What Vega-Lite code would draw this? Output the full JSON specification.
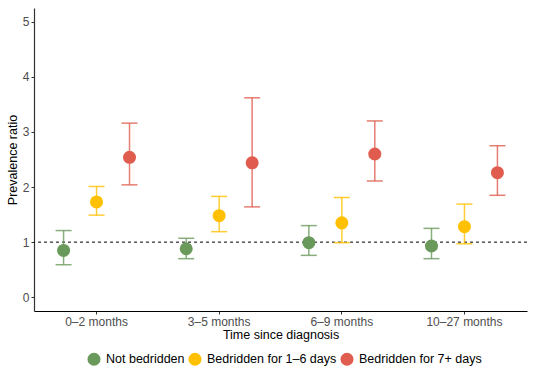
{
  "$schema": "https://vega.github.io/schema/vega-lite/v6.json",
  "autosize": {"type": "none"},
  "width": 493,
  "height": 303,
  "padding": {"left": 34, "top": 8, "right": 23, "bottom": 56},
  "background": "white",
  "config": {
    "view": {"stroke": null},
    "font": "Liberation Sans"
  },
  "data": {
    "values": [
      {"time": "0–2 months", "group": "Not bedridden", "pr": 0.85, "lo": 0.59, "hi": 1.21},
      {"time": "0–2 months", "group": "Bedridden for 1–6 days", "pr": 1.73, "lo": 1.49, "hi": 2.01},
      {"time": "0–2 months", "group": "Bedridden for 7+ days", "pr": 2.54, "lo": 2.04, "hi": 3.16},
      {"time": "3–5 months", "group": "Not bedridden", "pr": 0.88, "lo": 0.70, "hi": 1.07},
      {"time": "3–5 months", "group": "Bedridden for 1–6 days", "pr": 1.48, "lo": 1.19, "hi": 1.83},
      {"time": "3–5 months", "group": "Bedridden for 7+ days", "pr": 2.44, "lo": 1.64, "hi": 3.62},
      {"time": "6–9 months", "group": "Not bedridden", "pr": 0.99, "lo": 0.76, "hi": 1.30},
      {"time": "6–9 months", "group": "Bedridden for 1–6 days", "pr": 1.35, "lo": 0.99, "hi": 1.81},
      {"time": "6–9 months", "group": "Bedridden for 7+ days", "pr": 2.60, "lo": 2.11, "hi": 3.20},
      {"time": "10–27 months", "group": "Not bedridden", "pr": 0.93, "lo": 0.70, "hi": 1.25},
      {"time": "10–27 months", "group": "Bedridden for 1–6 days", "pr": 1.28, "lo": 0.97, "hi": 1.69},
      {"time": "10–27 months", "group": "Bedridden for 7+ days", "pr": 2.26, "lo": 1.85, "hi": 2.75}
    ]
  },
  "encoding": {
    "x": {
      "field": "time", "type": "nominal",
      "sort": ["0–2 months", "3–5 months", "6–9 months", "10–27 months"],
      "scale": {"paddingInner": 0, "paddingOuter": 0.01},
      "axis": {
        "title": "Time since diagnosis", "labelAngle": 0,
        "labelFontSize": 12, "labelColor": "#4d4d4d", "labelPadding": 2,
        "titleFontSize": 12.5, "titleFontWeight": "normal", "titleColor": "black", "titlePadding": 1,
        "tickColor": "#333", "tickSize": 3, "domainColor": "black", "domainWidth": 1.2
      }
    },
    "xOffset": {
      "field": "group", "type": "nominal",
      "sort": ["Not bedridden", "Bedridden for 1–6 days", "Bedridden for 7+ days"],
      "scale": {"paddingInner": 0, "paddingOuter": 0.36}
    },
    "color": {
      "field": "group", "type": "nominal",
      "sort": ["Not bedridden", "Bedridden for 1–6 days", "Bedridden for 7+ days"],
      "scale": {"domain": ["Not bedridden", "Bedridden for 1–6 days", "Bedridden for 7+ days"], "range": ["#6a9a5b", "#ffc000", "#e05c4f"]},
      "legend": {
        "title": null, "orient": "none", "direction": "horizontal",
        "legendX": 53, "legendY": 344,
        "symbolType": "circle", "symbolSize": 170, "symbolStrokeWidth": 0, "symbolOpacity": 1,
        "labelFontSize": 12.5, "labelColor": "black", "columnPadding": 3, "labelOffset": 5
      }
    }
  },
  "layer": [
    {
      "data": {"values": [{"ref": 1}]},
      "mark": {"type": "rule", "strokeDash": [3, 3], "color": "black", "strokeWidth": 1},
      "encoding": {"y": {"field": "ref", "type": "quantitative"}, "x": null, "xOffset": null, "color": null}
    },
    {
      "mark": {"type": "rule", "strokeWidth": 1.5, "opacity": 0.8},
      "encoding": {
        "y": {
          "field": "lo", "type": "quantitative",
          "scale": {"domain": [-0.25, 5.25], "nice": false, "zero": false},
          "axis": {
            "title": "Prevalence ratio", "values": [0, 1, 2, 3, 4, 5], "format": "d", "grid": false,
            "labelFontSize": 12, "labelColor": "#4d4d4d", "labelPadding": 2,
            "titleFontSize": 12.5, "titleFontWeight": "normal", "titleColor": "black", "titlePadding": 3,
            "tickColor": "#333", "tickSize": 3, "domainColor": "#333", "domainWidth": 1.2
          }
        },
        "y2": {"field": "hi"}
      }
    },
    {
      "mark": {"type": "tick", "orient": "horizontal", "size": 16, "thickness": 1.5, "opacity": 0.8},
      "encoding": {"y": {"field": "lo", "type": "quantitative"}}
    },
    {
      "mark": {"type": "tick", "orient": "horizontal", "size": 16, "thickness": 1.5, "opacity": 0.8},
      "encoding": {"y": {"field": "hi", "type": "quantitative"}}
    },
    {
      "mark": {"type": "point", "filled": true, "shape": "circle", "size": 170, "opacity": 1},
      "encoding": {"y": {"field": "pr", "type": "quantitative"}}
    }
  ]
}
